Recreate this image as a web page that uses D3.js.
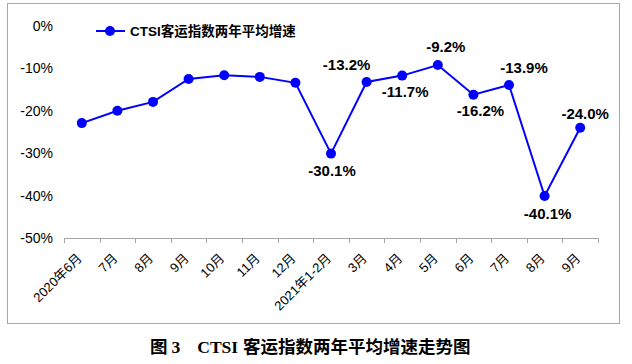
<html>
<head>
<meta charset="utf-8">
<script src="https://cdn.jsdelivr.net/npm/d3@7"></script>
<style>
body { margin: 0; background: #fff; }
svg text { font-family: Arial, "Liberation Sans", "Noto Sans CJK SC", sans-serif; }
</style>
</head>
<body>
<div id="chart"></div>
<script>
// categories and values
var months = ["2020年6月", "7月", "8月", "9月", "10月", "11月", "12月", "2021年1-2月",
              "3月", "4月", "5月", "6月", "7月", "8月", "9月"];
var growth = [-22.9, -20.0, -17.9, -12.5, -11.6, -12.0, -13.4, -30.1,
              -13.2, -11.7, -9.2, -16.2, -13.9, -40.1, -24.0];
var labelled = [false, false, false, false, false, false, false, true,
                true, true, true, true, true, true, true];
var yTicks = [0, -10, -20, -30, -40, -50];
var seriesName = "CTSI客运指数两年平均增速";

// where each data label sits relative to its point (hand-placed in the original)
var labelNudge = [[0,0],[0,0],[0,0],[0,0],[0,0],[0,0],[0,0],
                  [1,17],[-20,-17],[3,16],[8,-18],[7,16],[15,-17],[3,18],[5,-14]];

var W = 632, H = 364;
var blue = "#0000ff";

var svg = d3.select("#chart").append("svg")
    .attr("width", W).attr("height", H);

svg.append("rect").attr("width", W).attr("height", H).attr("fill", "#fff");

// outer frame
svg.append("rect")
    .attr("x", 7.5).attr("y", 3.5).attr("width", 612).attr("height", 320)
    .attr("fill", "none").attr("stroke", "#a6a6a6").attr("stroke-width", 1);

var x = d3.scaleBand().domain(d3.range(months.length)).range([64, 598]).padding(0);
var y = d3.scaleLinear().domain([-50, 0]).range([238, 26]);
var cx = function(i){ return x(i) + x.bandwidth() / 2; };

// y labels (no axis line)
svg.selectAll("text.ytick")
    .data(yTicks).enter().append("text")
    .attr("class", "ytick")
    .attr("x", 53)
    .attr("y", function(d){ return y(d) + 5; })
    .attr("text-anchor", "end")
    .attr("font-size", "14px")
    .attr("fill", "#000")
    .text(function(d){ return d + "%"; });

// x axis line + ticks at category edges
var g = svg.append("g");
g.append("line")
    .attr("x1", 64).attr("x2", 598)
    .attr("y1", y(-50) + 0.5).attr("y2", y(-50) + 0.5)
    .attr("stroke", "#a6a6a6").attr("stroke-width", 1);
var edges = d3.range(months.length + 1).map(function(i){
    return i < months.length ? x(i) : x(i - 1) + x.bandwidth(); });
g.selectAll("line.tick")
    .data(edges).enter().append("line")
    .attr("class", "tick")
    .attr("x1", function(d){ return Math.round(d) + 0.5; })
    .attr("x2", function(d){ return Math.round(d) + 0.5; })
    .attr("y1", y(-50)).attr("y2", y(-50) + 5)
    .attr("stroke", "#a6a6a6");

g.selectAll("text.xlab")
    .data(months).enter().append("text")
    .attr("class", "xlab")
    .attr("text-anchor", "end")
    .attr("font-size", "13px")
    .attr("fill", "#000")
    .attr("transform", function(d, i){
        return "translate(" + (cx(i) + 1) + ",259) rotate(-45)"; })
    .text(function(d){ return d; });

// series
var line = d3.line()
    .x(function(d, i){ return cx(i); })
    .y(function(d){ return y(d); });

svg.append("path")
    .datum(growth)
    .attr("d", line)
    .attr("fill", "none")
    .attr("stroke", blue)
    .attr("stroke-width", 2);

svg.selectAll("circle.pt")
    .data(growth).enter().append("circle")
    .attr("class", "pt")
    .attr("cx", function(d, i){ return cx(i); })
    .attr("cy", function(d){ return y(d); })
    .attr("r", 5)
    .attr("fill", blue);

var pts = growth.map(function(v, i){ return {v: v, i: i}; })
    .filter(function(p){ return labelled[p.i]; });

svg.selectAll("text.val")
    .data(pts).enter().append("text")
    .attr("class", "val")
    .attr("x", function(p){ return cx(p.i) + labelNudge[p.i][0]; })
    .attr("y", function(p){ return y(p.v) + labelNudge[p.i][1] + 5; })
    .attr("text-anchor", "middle")
    .attr("font-size", "15px")
    .attr("font-weight", "bold")
    .attr("fill", "#000")
    .text(function(p){ return p.v.toFixed(1) + "%"; });

// legend
var lg = svg.append("g");
lg.append("line")
    .attr("x1", 96).attr("x2", 125).attr("y1", 31).attr("y2", 31)
    .attr("stroke", blue).attr("stroke-width", 2);
lg.append("circle").attr("cx", 110).attr("cy", 31).attr("r", 5).attr("fill", blue);
lg.append("text")
    .attr("x", 130).attr("y", 36)
    .attr("font-size", "13.5px")
    .attr("font-weight", "bold")
    .attr("fill", "#000")
    .text(seriesName);

// caption
var cap = svg.append("text")
    .attr("x", 150).attr("y", 353)
    .attr("font-size", "17.5px")
    .attr("font-weight", "bold")
    .attr("fill", "#000")
    .style("font-family", "'Liberation Serif', 'Times New Roman', 'Noto Sans CJK SC', serif");
cap.append("tspan").text("图");
cap.append("tspan").attr("dx", 4).text("3");
cap.append("tspan").attr("dx", 17).text("CTSI");
cap.append("tspan").attr("dx", 5).text("客运指数两年平均增速走势图");
</script>
</body>
</html>
